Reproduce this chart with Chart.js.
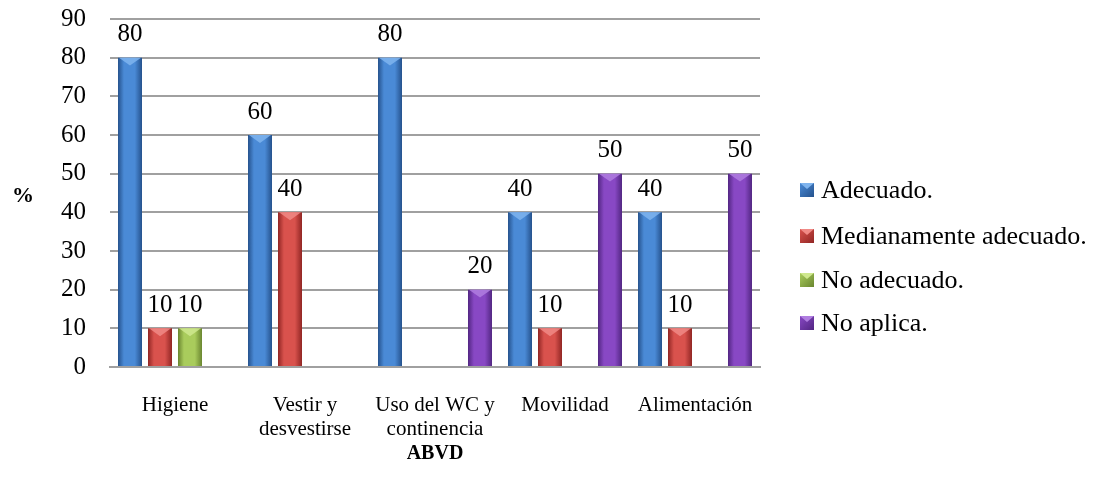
<!DOCTYPE html>
<html>
<head>
<meta charset="utf-8">
<script src="https://cdn.jsdelivr.net/npm/chart.js@4/dist/chart.umd.min.js"></script>
<style>
  html, body { margin: 0; padding: 0; background: #ffffff; }
  #wrap { width: 1099px; height: 488px; }
</style>
</head>
<body>
<div id="wrap"><canvas id="c" width="1099" height="488"></canvas></div>
<script>
const categories = ['Higiene', ['Vestir y', 'desvestirse'], ['Uso del WC y', 'continencia'], 'Movilidad', 'Alimentación'];
const seriesNames = ['Adecuado.', 'Medianamente adecuado.', 'No adecuado.', 'No aplica.'];
const adecuado = [80, 60, 80, 40, 40];
const medianamente = [10, 40, 0, 10, 10];
const noAdecuado = [10, 0, 0, 0, 0];
const noAplica = [0, 0, 20, 50, 50];
const yTicks = [0, 10, 20, 30, 40, 50, 60, 70, 80, 90];
const yTitle = '%';
const xTitle = 'ABVD';

const palette = [
  { edge: '#25528d', mid: '#4a8ad6', top: '#7fb4ee' },
  { edge: '#912624', mid: '#d9524d', top: '#f08a86' },
  { edge: '#6a8630', mid: '#a9cc5c', top: '#cfe88e' },
  { edge: '#522682', mid: '#8848c4', top: '#b07ee0' }
];

const CAT_PCT = 0.923;
const BAR_PCT = 0.8;

function barGradient(ctx, i) {
  const chart = ctx.chart;
  const xs = chart.scales && chart.scales.x;
  if (!chart.chartArea || !xs || ctx.dataIndex === undefined) return palette[i].mid;
  const n = chart.data.labels.length;
  const nSeries = chart.data.datasets.length;
  const catW = xs.width / n;
  const slot = catW * CAT_PCT / nSeries;
  const center = xs.getPixelForValue(ctx.dataIndex);
  const bx = center - slot * nSeries / 2 + slot * (i + 0.5);
  const w = slot * BAR_PCT;
  const g = chart.ctx.createLinearGradient(bx - w / 2, 0, bx + w / 2, 0);
  g.addColorStop(0, palette[i].edge);
  g.addColorStop(0.25, palette[i].mid);
  g.addColorStop(0.7, palette[i].mid);
  g.addColorStop(1, palette[i].edge);
  return g;
}

const seriesData = [adecuado, medianamente, noAdecuado, noAplica];
const datasets = seriesData.map((d, i) => ({
  label: seriesNames[i],
  data: d,
  backgroundColor: (ctx) => barGradient(ctx, i),
  borderWidth: 0,
  categoryPercentage: CAT_PCT,
  barPercentage: BAR_PCT
}));

const serif = "'Liberation Serif', 'Times New Roman', serif";

const labelsPlugin = {
  id: 'valueLabels',
  afterDatasetsDraw(chart) {
    const ctx = chart.ctx;
    ctx.save();
    // bevel highlight at top of each bar
    chart.data.datasets.forEach((ds, di) => {
      const meta = chart.getDatasetMeta(di);
      meta.data.forEach((bar, idx) => {
        const v = ds.data[idx];
        if (!v) return;
        const w = bar.width;
        const l = bar.x - w / 2, r = bar.x + w / 2;
        ctx.globalAlpha = 0.85;
        ctx.fillStyle = palette[di].top;
        ctx.beginPath();
        ctx.moveTo(l + 1, bar.y);
        ctx.lineTo(r - 1, bar.y);
        ctx.lineTo(bar.x, bar.y + w * 0.33);
        ctx.closePath();
        ctx.fill();
        ctx.globalAlpha = 1;
      });
    });
    ctx.font = '25px ' + serif;
    ctx.fillStyle = '#000';
    ctx.textAlign = 'center';
    ctx.textBaseline = 'middle';
    chart.data.datasets.forEach((ds, di) => {
      const meta = chart.getDatasetMeta(di);
      meta.data.forEach((bar, idx) => {
        const v = ds.data[idx];
        if (!v) return;
        ctx.fillText(String(v), bar.x, bar.y - 23);
      });
    });
    ctx.restore();
  }
};

const extrasPlugin = {
  id: 'extras',
  afterDraw(chart) {
    const ctx = chart.ctx;
    ctx.save();
    ctx.font = 'bold 22px ' + serif;
    ctx.fillStyle = '#000';
    ctx.textAlign = 'center';
    ctx.textBaseline = 'middle';
    ctx.fillText(yTitle, 23, 196);
    ctx.font = '26px ' + serif;
    ctx.textAlign = 'left';
    const ys = [190, 236, 280, 323];
    chart.data.datasets.forEach((ds, i) => {
      const y = ys[i];
      const g = ctx.createLinearGradient(800, y - 7, 814, y + 7);
      g.addColorStop(0, palette[i].mid);
      g.addColorStop(1, palette[i].edge);
      ctx.fillStyle = g;
      ctx.fillRect(800, y - 7, 14, 14);
      ctx.fillStyle = palette[i].top;
      ctx.beginPath();
      ctx.moveTo(800, y - 7);
      ctx.lineTo(814, y - 7);
      ctx.lineTo(807, y - 1);
      ctx.closePath();
      ctx.fill();
      ctx.fillStyle = '#000';
      ctx.fillText(ds.label, 821, y + 1);
    });
    ctx.restore();
  }
};

new Chart(document.getElementById('c'), {
  type: 'bar',
  data: { labels: categories, datasets },
  options: {
    responsive: false,
    animation: false,
    layout: { padding: { left: 0, right: 339, top: 19, bottom: 0 } },
    plugins: {
      legend: { display: false },
      tooltip: { enabled: false }
    },
    scales: {
      y: {
        min: 0, max: 90,
        afterFit(scale) { scale.width = 110; scale.paddingTop = 0; scale.paddingBottom = 0; },
        afterBuildTicks(scale) { scale.ticks = yTicks.map(v => ({ value: v })); },
        ticks: {
          stepSize: 10,
          padding: 24,
          color: '#000',
          font: { family: serif, size: 25 }
        },
        grid: { color: '#a0a0a0', lineWidth: 2, drawTicks: false },
        border: { display: false }
      },
      x: {
        afterFit(scale) { scale.height = 121; },
        ticks: {
          color: '#000',
          padding: 26,
          maxRotation: 0,
          autoSkip: false,
          font: { family: serif, size: 21, lineHeight: 1.15 }
        },
        grid: { display: false, drawTicks: false },
        border: { display: true, color: '#a0a0a0', width: 2 },
        title: {
          display: true,
          text: xTitle,
          color: '#000',
          font: { family: serif, size: 20, weight: 'bold' },
          padding: { top: 0, bottom: 22 }
        }
      }
    }
  },
  plugins: [labelsPlugin, extrasPlugin]
});
</script>
</body>
</html>
